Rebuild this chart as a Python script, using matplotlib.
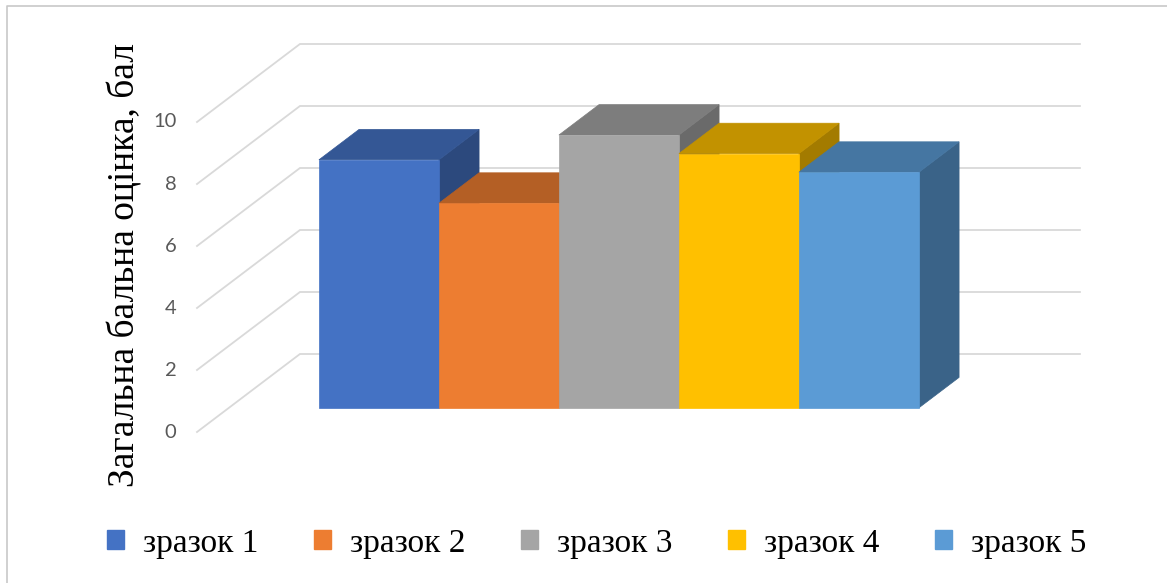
import matplotlib.pyplot as plt
from matplotlib.patches import Polygon, Patch
from matplotlib.lines import Line2D
from matplotlib.colors import to_rgb

labels = ['зразок 1', 'зразок 2', 'зразок 3', 'зразок 4', 'зразок 5']
values = [8.0, 6.6, 8.8, 8.2, 7.6]
colors = ['#4472C4', '#ED7D31', '#A5A5A5', '#FFC000', '#5B9BD5']
yticks = [0, 2, 4, 6, 8, 10]
ylabel = 'Загальна бальна оцінка, бал'

# oblique "3d" look: x in bar widths, y in score units
DX, DY = 0.858, 2.516        # shift from front edge to back wall
FLOOR_W = 6.5                # width of the floor
F0, F1 = 0.31, 0.70          # depth of bars (fraction of floor depth)
PAD = 0.75                   # space left of the first bar
GRID = '#D9D9D9'


def proj(x, y, f):
    return (x + f * DX, y + f * DY)


def shade(c, k):
    r, g, b = to_rgb(c)
    return (r * k, g * k, b * k)


fig = plt.figure(figsize=(11.67, 5.83), dpi=100)
ax = fig.add_axes([0, 0, 1, 1])
ax.set_xlim(-197 / 120, 970 / 120)
ax.set_ylim(-151 / 31, 432 / 31)
ax.axis('off')

# walls: back gridlines + diagonals on the side
for v in yticks:
    bx, by = proj(0, v, 1)
    ax.plot([0, bx, bx + FLOOR_W], [v, by, by], color=GRID, lw=1.3,
            solid_joinstyle='miter', zorder=1)
    ax.text(-0.17, v, str(v), ha='right', va='center', color='#595959',
            fontsize=14.5, family='Lato')

# bars
for i, (v, c) in enumerate(zip(values, colors)):
    x0, x1 = PAD + i, PAD + i + 1
    side = [proj(x1, 0, F0), proj(x1, 0, F1), proj(x1, v, F1), proj(x1, v, F0)]
    top = [proj(x0, v, F0), proj(x1, v, F0), proj(x1, v, F1), proj(x0, v, F1)]
    front = [proj(x0, 0, F0), proj(x1, 0, F0), proj(x1, v, F0), proj(x0, v, F0)]
    ax.add_patch(Polygon(side, closed=True, fc=shade(c, 0.64), ec=shade(c, 0.64), lw=0.5, zorder=2))
    ax.add_patch(Polygon(top, closed=True, fc=shade(c, 0.76), ec=shade(c, 0.76), lw=0.5, zorder=2))
    ax.add_patch(Polygon(front, closed=True, fc=c, ec=c, lw=0.5, zorder=2))

fig.text(0.107, 0.545, ylabel, rotation=90, ha='center', va='center',
         fontsize=27, family='Liberation Serif')

handles = [Patch(facecolor=c, edgecolor=c) for c in colors]
fig.legend(handles, labels, loc='center', bbox_to_anchor=(0.511, 0.068), ncol=5,
           frameon=False, handlelength=0.51, handleheight=0.51, handletextpad=0.57,
           columnspacing=1.67, prop={'family': 'Liberation Serif', 'size': 24})

# outer frame (top and left visible)
fig.add_artist(Line2D([7 / 1167, 7 / 1167, 1], [0, 1 - 6 / 583, 1 - 6 / 583],
                      color='#C8C8C8', lw=1.2, transform=fig.transFigure))

fig.savefig('out.png', dpi=100)
